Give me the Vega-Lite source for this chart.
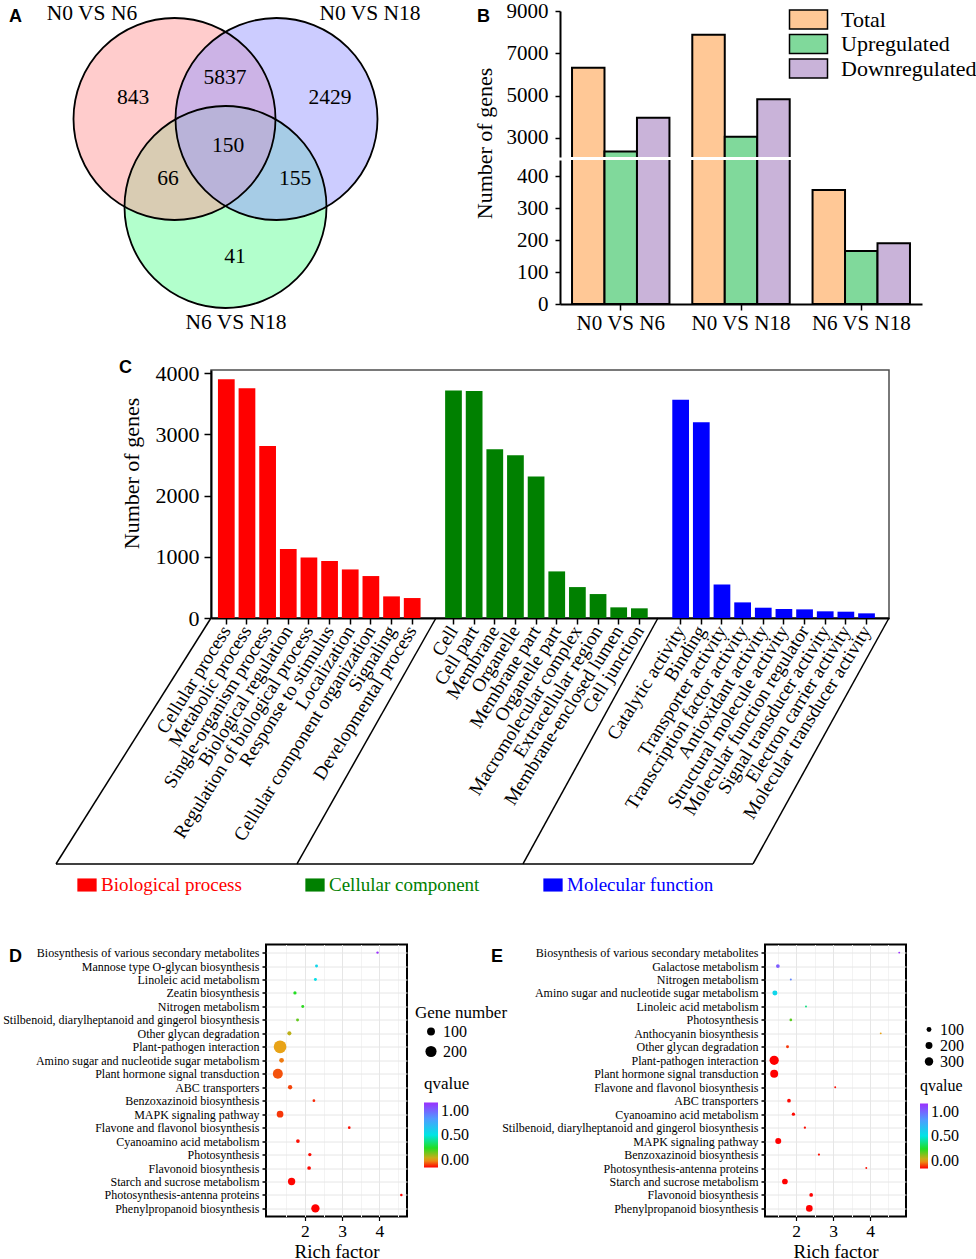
{
  "$schema": "https://vega.github.io/schema/vega-lite/v6.json",
  "background": "white",
  "padding": 0,
  "config": {
    "font": "Liberation Serif",
    "view": {"stroke": null},
    "axis": {"labelFont": "Liberation Serif", "titleFont": "Liberation Serif", "labelColor": "black", "titleColor": "black", "domainColor": "black", "tickColor": "black", "titleFontWeight": "normal"},
    "legend": {"labelFont": "Liberation Serif", "titleFont": "Liberation Serif", "labelColor": "black", "titleColor": "black", "titleFontWeight": "normal", "padding": 0},
    "title": {"font": "Liberation Sans", "fontWeight": "bold", "fontSize": 18, "color": "black", "anchor": "start", "frame": "group", "offset": 0, "baseline": "middle"}
  },
  "datasets": {
    "vennSets": [
      {"set": "N6 VS N18", "cx": 225.5, "cy": 206},
      {"set": "N0 VS N6", "cx": 174.5, "cy": 118},
      {"set": "N0 VS N18", "cx": 276.5, "cy": 118}
    ],
    "vennText": [
      {"text": "N0 VS N6", "x": 92, "y": 13},
      {"text": "N0 VS N18", "x": 370, "y": 13},
      {"text": "N6 VS N18", "x": 236, "y": 322},
      {"text": "843", "x": 133, "y": 97},
      {"text": "5837", "x": 225, "y": 77},
      {"text": "2429", "x": 330, "y": 97},
      {"text": "150", "x": 228, "y": 145},
      {"text": "66", "x": 168, "y": 178},
      {"text": "155", "x": 295, "y": 178},
      {"text": "41", "x": 235, "y": 256}
    ],
    "degs": [
      {"comparison": "N0 VS N6", "type": "Total", "genes": 6316},
      {"comparison": "N0 VS N6", "type": "Upregulated", "genes": 2357},
      {"comparison": "N0 VS N6", "type": "Downregulated", "genes": 3959},
      {"comparison": "N0 VS N18", "type": "Total", "genes": 7882},
      {"comparison": "N0 VS N18", "type": "Upregulated", "genes": 3057},
      {"comparison": "N0 VS N18", "type": "Downregulated", "genes": 4825},
      {"comparison": "N6 VS N18", "type": "Total", "genes": 356},
      {"comparison": "N6 VS N18", "type": "Upregulated", "genes": 166},
      {"comparison": "N6 VS N18", "type": "Downregulated", "genes": 190}
    ],
    "goTerms": [
      {"term": "Cellular process", "ontology": "Biological process", "genes": 3897},
      {"term": "Metabolic process", "ontology": "Biological process", "genes": 3750},
      {"term": "Single-organism process", "ontology": "Biological process", "genes": 2810},
      {"term": "Biological regulation", "ontology": "Biological process", "genes": 1125},
      {"term": "Regulation of biological process", "ontology": "Biological process", "genes": 989},
      {"term": "Response to stimulus", "ontology": "Biological process", "genes": 929},
      {"term": "Localization", "ontology": "Biological process", "genes": 793},
      {"term": "Cellular component organization", "ontology": "Biological process", "genes": 685},
      {"term": "Signaling", "ontology": "Biological process", "genes": 353},
      {"term": "Developmental process", "ontology": "Biological process", "genes": 326},
      {"term": "Cell", "ontology": "Cellular component", "genes": 3717},
      {"term": "Cell part", "ontology": "Cellular component", "genes": 3707},
      {"term": "Membrane", "ontology": "Cellular component", "genes": 2755},
      {"term": "Organelle", "ontology": "Cellular component", "genes": 2658},
      {"term": "Membrane part", "ontology": "Cellular component", "genes": 2310},
      {"term": "Organelle part", "ontology": "Cellular component", "genes": 761},
      {"term": "Macromolecular complex", "ontology": "Cellular component", "genes": 505},
      {"term": "Extracellular region", "ontology": "Cellular component", "genes": 391},
      {"term": "Membrane-enclosed lumen", "ontology": "Cellular component", "genes": 174},
      {"term": "Cell junction", "ontology": "Cellular component", "genes": 158},
      {"term": "Catalytic activity", "ontology": "Molecular function", "genes": 3565},
      {"term": "Binding", "ontology": "Molecular function", "genes": 3196},
      {"term": "Transporter activity", "ontology": "Molecular function", "genes": 549},
      {"term": "Transcription factor activity", "ontology": "Molecular function", "genes": 255},
      {"term": "Antioxidant activity", "ontology": "Molecular function", "genes": 168},
      {"term": "Structural molecule activity", "ontology": "Molecular function", "genes": 147},
      {"term": "Molecular function regulator", "ontology": "Molecular function", "genes": 141},
      {"term": "Signal transducer activity", "ontology": "Molecular function", "genes": 109},
      {"term": "Electron carrier activity", "ontology": "Molecular function", "genes": 103},
      {"term": "Molecular transducer activity", "ontology": "Molecular function", "genes": 76}
    ],
    "goFrame": [
      {"x": 0, "x2": -155, "y": 0, "y2": -4017},
      {"x": 225, "x2": 86, "y": 0, "y2": -4017},
      {"x": 447, "x2": 312, "y": 0, "y2": -4017},
      {"x": 678, "x2": 542, "y": 0, "y2": -4017},
      {"x": -155, "x2": 542, "y": -4017, "y2": -4017}
    ],
    "keggD": [
      {"pathway": "Biosynthesis of various secondary metabolites", "rich": 3.95, "genes": 9, "q": 1.0},
      {"pathway": "Mannose type O-glycan biosynthesis", "rich": 2.31, "genes": 14, "q": 0.55},
      {"pathway": "Linoleic acid metabolism", "rich": 2.28, "genes": 14, "q": 0.52},
      {"pathway": "Zeatin biosynthesis", "rich": 1.73, "genes": 17, "q": 0.3},
      {"pathway": "Nitrogen metabolism", "rich": 1.94, "genes": 14, "q": 0.29},
      {"pathway": "Stilbenoid, diarylheptanoid and gingerol biosynthesis", "rich": 1.8, "genes": 14, "q": 0.24},
      {"pathway": "Other glycan degradation", "rich": 1.58, "genes": 26, "q": 0.16},
      {"pathway": "Plant-pathogen interaction", "rich": 1.33, "genes": 260, "q": 0.12},
      {"pathway": "Amino sugar and nucleotide sugar metabolism", "rich": 1.37, "genes": 36, "q": 0.09},
      {"pathway": "Plant hormone signal transduction", "rich": 1.27, "genes": 160, "q": 0.06},
      {"pathway": "ABC transporters", "rich": 1.6, "genes": 30, "q": 0.05},
      {"pathway": "Benzoxazinoid biosynthesis", "rich": 2.24, "genes": 12, "q": 0.03},
      {"pathway": "MAPK signaling pathway", "rich": 1.33, "genes": 73, "q": 0.04},
      {"pathway": "Flavone and flavonol biosynthesis", "rich": 3.19, "genes": 11, "q": 0.01},
      {"pathway": "Cyanoamino acid metabolism", "rich": 1.81, "genes": 22, "q": 0.01},
      {"pathway": "Photosynthesis", "rich": 2.13, "genes": 18, "q": 0.008},
      {"pathway": "Flavonoid biosynthesis", "rich": 2.11, "genes": 22, "q": 0.005},
      {"pathway": "Starch and sucrose metabolism", "rich": 1.64, "genes": 86, "q": 0.003},
      {"pathway": "Photosynthesis-antenna proteins", "rich": 4.59, "genes": 10, "q": 0.002},
      {"pathway": "Phenylpropanoid biosynthesis", "rich": 2.28, "genes": 112, "q": 0.0}
    ],
    "keggE": [
      {"pathway": "Biosynthesis of various secondary metabolites", "rich": 4.79, "genes": 15, "q": 1.0},
      {"pathway": "Galactose metabolism", "rich": 1.51, "genes": 57, "q": 0.9},
      {"pathway": "Nitrogen metabolism", "rich": 1.86, "genes": 17, "q": 0.8},
      {"pathway": "Amino sugar and nucleotide sugar metabolism", "rich": 1.43, "genes": 104, "q": 0.55},
      {"pathway": "Linoleic acid metabolism", "rich": 2.27, "genes": 17, "q": 0.4},
      {"pathway": "Photosynthesis", "rich": 1.86, "genes": 30, "q": 0.25},
      {"pathway": "Anthocyanin biosynthesis", "rich": 4.29, "genes": 15, "q": 0.12},
      {"pathway": "Other glycan degradation", "rich": 1.77, "genes": 37, "q": 0.04},
      {"pathway": "Plant-pathogen interaction", "rich": 1.41, "genes": 360, "q": 0.0},
      {"pathway": "Plant hormone signal transduction", "rich": 1.41, "genes": 265, "q": 0.0},
      {"pathway": "Flavone and flavonol biosynthesis", "rich": 3.06, "genes": 15, "q": 0.01},
      {"pathway": "ABC transporters", "rich": 1.81, "genes": 57, "q": 0.005},
      {"pathway": "Cyanoamino acid metabolism", "rich": 1.93, "genes": 45, "q": 0.005},
      {"pathway": "Stilbenoid, diarylheptanoid and gingerol biosynthesis", "rich": 2.24, "genes": 22, "q": 0.01},
      {"pathway": "MAPK signaling pathway", "rich": 1.52, "genes": 150, "q": 0.0},
      {"pathway": "Benzoxazinoid biosynthesis", "rich": 2.62, "genes": 20, "q": 0.01},
      {"pathway": "Photosynthesis-antenna proteins", "rich": 3.9, "genes": 15, "q": 0.01},
      {"pathway": "Starch and sucrose metabolism", "rich": 1.7, "genes": 135, "q": 0.0},
      {"pathway": "Flavonoid biosynthesis", "rich": 2.41, "genes": 57, "q": 0.0},
      {"pathway": "Phenylpropanoid biosynthesis", "rich": 2.36, "genes": 186, "q": 0.0}
    ]
  },
  "resolve": {"scale": {"color": "independent", "size": "independent"}, "legend": {"color": "independent", "size": "independent"}},
  "spacing": 24,
  "vconcat": [
    {
      "bounds": "flush",
      "spacing": 100,
      "resolve": {"scale": {"color": "independent"}, "legend": {"color": "independent"}},
      "hconcat": [
        {
          "width": 460,
          "height": 320,
          "title": {"text": "A", "dx": 9, "dy": 27.25},
          "layer": [
            {
              "data": {"name": "vennSets"},
              "mark": {"type": "point", "shape": "circle", "filled": true, "size": 40804, "opacity": 0.5, "strokeWidth": 0},
              "encoding": {
                "x": {"field": "cx", "type": "quantitative", "scale": {"domain": [0, 460], "nice": false, "zero": false}, "axis": null},
                "y": {"field": "cy", "type": "quantitative", "scale": {"domain": [10, 330], "reverse": true, "nice": false, "zero": false}, "axis": null},
                "color": {"field": "set", "type": "nominal", "scale": {"domain": ["N0 VS N6", "N0 VS N18", "N6 VS N18"], "range": ["#FF9999", "#9999FF", "#66FF99"]}, "legend": null}
              }
            },
            {
              "data": {"name": "vennSets"},
              "mark": {"type": "point", "shape": "circle", "filled": false, "size": 40804, "color": "black", "strokeWidth": 1.8, "opacity": 1},
              "encoding": {
                "x": {"field": "cx", "type": "quantitative", "scale": {"domain": [0, 460], "nice": false, "zero": false}, "axis": null},
                "y": {"field": "cy", "type": "quantitative", "scale": {"domain": [10, 330], "reverse": true, "nice": false, "zero": false}, "axis": null}
              }
            },
            {
              "data": {"name": "vennText"},
              "mark": {"type": "text", "font": "Liberation Serif", "fontSize": 21.5, "color": "black"},
              "encoding": {
                "x": {"field": "x", "type": "quantitative", "scale": {"domain": [0, 460], "nice": false, "zero": false}, "axis": null},
                "y": {"field": "y", "type": "quantitative", "scale": {"domain": [10, 330], "reverse": true, "nice": false, "zero": false}, "axis": null},
                "text": {"field": "text"}
              }
            }
          ]
        },
        {
          "bounds": "flush",
          "spacing": 3,
          "resolve": {"scale": {"color": "independent"}, "legend": {"color": "independent"}},
          "vconcat": [
            {
              "width": 362,
              "height": 146,
              "title": {"text": "B", "dx": -83, "dy": 30},
              "data": {"name": "degs"},
              "mark": {"type": "bar", "clip": true, "stroke": "black", "strokeWidth": 2},
              "encoding": {
                "x": {"field": "comparison", "type": "nominal", "sort": ["N0 VS N6", "N0 VS N18", "N6 VS N18"], "scale": {"paddingInner": 0.19, "paddingOuter": 0.1}, "axis": null},
                "xOffset": {"field": "type", "type": "nominal", "sort": ["Total", "Upregulated", "Downregulated"], "scale": {"paddingInner": 0, "paddingOuter": 0}},
                "y": {"field": "genes", "type": "quantitative", "scale": {"domain": [2100, 9000], "nice": false, "zero": false},
                  "axis": {"values": [3000, 5000, 7000, 9000], "format": "d", "title": "Number of genes", "titleFontSize": 22, "titlePadding": 10, "titleY": 132, "labelFontSize": 21, "tickSize": 5, "tickWidth": 1.5, "domainWidth": 2, "labelPadding": 7, "grid": false}},
                "color": {"field": "type", "type": "nominal", "scale": {"domain": ["Total", "Upregulated", "Downregulated"], "range": ["#FFC896", "#80D99B", "#C9B3D9"]},
                  "legend": {"orient": "none", "legendX": 237.5, "legendY": -2.5, "title": null, "direction": "vertical", "symbolType": "M-2,-1H2V1H-2Z", "symbolSize": 361, "symbolStrokeColor": "black", "symbolStrokeWidth": 1.5, "symbolOpacity": 1, "labelFontSize": 22, "labelOffset": 21.5, "rowPadding": -1.5}}
              }
            },
            {
              "width": 362,
              "height": 144,
              "data": {"name": "degs"},
              "mark": {"type": "bar", "clip": true, "stroke": "black", "strokeWidth": 2},
              "encoding": {
                "x": {"field": "comparison", "type": "nominal", "sort": ["N0 VS N6", "N0 VS N18", "N6 VS N18"], "scale": {"paddingInner": 0.19, "paddingOuter": 0.1},
                  "axis": {"title": null, "labelAngle": 0, "labelFontSize": 21, "tickSize": 6, "tickWidth": 1.5, "domainWidth": 2, "labelPadding": 2}},
                "xOffset": {"field": "type", "type": "nominal", "sort": ["Total", "Upregulated", "Downregulated"], "scale": {"paddingInner": 0, "paddingOuter": 0}},
                "y": {"field": "genes", "type": "quantitative", "scale": {"domain": [0, 450], "nice": false},
                  "axis": {"values": [0, 100, 200, 300, 400], "format": "d", "title": null, "labelFontSize": 21, "tickSize": 5, "tickWidth": 1.5, "domainWidth": 2, "labelPadding": 7, "grid": false}},
                "color": {"field": "type", "type": "nominal", "scale": {"domain": ["Total", "Upregulated", "Downregulated"], "range": ["#FFC896", "#80D99B", "#C9B3D9"]}, "legend": null}
              }
            }
          ]
        }
      ]
    },
    {
      "spacing": 47.5,
      "resolve": {"scale": {"color": "independent", "size": "independent"}, "legend": {"color": "independent", "size": "independent"}},
      "vconcat": [
        {
          "bounds": "flush",
          "spacing": 210,
          "resolve": {"scale": {"color": "independent"}, "legend": {"color": "independent"}},
          "hconcat": [
            {"width": 1, "height": 1, "data": {"values": []}, "mark": "point"},
            {
              "width": 678,
              "height": 248,
              "title": {"text": "C", "dx": -92, "dy": 19},
              "view": {"stroke": "#4d4d4d", "strokeWidth": 1.5},
              "resolve": {"scale": {"x": "independent", "y": "independent"}, "axis": {"x": "independent", "y": "independent"}},
              "layer": [
                {
                  "data": {"name": "goTerms"},
                  "mark": {"type": "bar"},
                  "encoding": {
                    "x": {"field": "term", "type": "nominal",
                      "scale": {"domain": ["Cellular process", "Metabolic process", "Single-organism process", "Biological regulation", "Regulation of biological process", "Response to stimulus", "Localization", "Cellular component organization", "Signaling", "Developmental process", " ", "Cell", "Cell part", "Membrane", "Organelle", "Membrane part", "Organelle part", "Macromolecular complex", "Extracellular region", "Membrane-enclosed lumen", "Cell junction", "  ", "Catalytic activity", "Binding", "Transporter activity", "Transcription factor activity", "Antioxidant activity", "Structural molecule activity", "Molecular function regulator", "Signal transducer activity", "Electron carrier activity", "Molecular transducer activity"], "paddingInner": 0.19, "paddingOuter": 0.51, "align": 0.33},
                      "axis": {"values": ["Cellular process", "Metabolic process", "Single-organism process", "Biological regulation", "Regulation of biological process", "Response to stimulus", "Localization", "Cellular component organization", "Signaling", "Developmental process", "Cell", "Cell part", "Membrane", "Organelle", "Membrane part", "Organelle part", "Macromolecular complex", "Extracellular region", "Membrane-enclosed lumen", "Cell junction", "Catalytic activity", "Binding", "Transporter activity", "Transcription factor activity", "Antioxidant activity", "Structural molecule activity", "Molecular function regulator", "Signal transducer activity", "Electron carrier activity", "Molecular transducer activity"],
                        "title": null, "labelAngle": -58, "labelAlign": "right", "labelBaseline": "middle", "labelFontSize": 19, "labelPadding": 3, "tickSize": 6, "tickWidth": 1.5, "domainWidth": 2, "labelLimit": 400, "labelOverlap": false}},
                    "y": {"field": "genes", "type": "quantitative", "scale": {"domain": [0, 4050], "nice": false},
                      "axis": {"values": [0, 1000, 2000, 3000, 4000], "format": "d", "title": "Number of genes", "titleFontSize": 22, "titlePadding": 12, "titleY": 103, "labelFontSize": 22, "labelPadding": 5, "tickSize": 7, "tickWidth": 1.5, "domainWidth": 2, "grid": false}},
                    "color": {"field": "ontology", "type": "nominal", "scale": {"domain": ["Biological process", "Cellular component", "Molecular function"], "range": ["#FF0000", "#008000", "#0000FF"]},
                      "legend": {"orient": "none", "legendX": -134, "legendY": 505, "direction": "horizontal", "title": null, "symbolType": "M-1,-0.68H1V0.68H-1Z", "symbolSize": 372, "symbolStrokeWidth": 0, "symbolOpacity": 1, "labelFontSize": 19, "labelOffset": 4, "columnPadding": 63,
                        "labelColor": {"expr": "datum.label == 'Biological process' ? '#FF0000' : datum.label == 'Cellular component' ? '#008000' : '#0000FF'"}}}
                  }
                },
                {
                  "data": {"name": "goFrame"},
                  "mark": {"type": "rule", "color": "black", "strokeWidth": 1.5},
                  "encoding": {
                    "x": {"field": "x", "type": "quantitative", "scale": {"domain": [0, 678], "nice": false, "zero": false}, "axis": null},
                    "x2": {"field": "x2"},
                    "y": {"field": "y", "type": "quantitative", "scale": {"domain": [0, 4050], "nice": false, "zero": false}, "axis": null},
                    "y2": {"field": "y2"}
                  }
                }
              ]
            }
          ]
        },
        {
          "bounds": "flush",
          "spacing": 265,
          "resolve": {"scale": {"color": "independent", "size": "independent"}, "legend": {"color": "independent", "size": "independent"}},
          "hconcat": [
            {"width": 1, "height": 1, "data": {"values": []}, "mark": "point"},
            {
              "bounds": "flush",
              "spacing": 358,
              "resolve": {"scale": {"color": "independent", "size": "independent"}, "legend": {"color": "independent", "size": "independent"}},
              "hconcat": [
                {
                  "width": 141,
                  "height": 272,
                  "title": {"text": "D", "dx": -257, "dy": 25},
                  "view": {"stroke": "black", "strokeWidth": 2},
                  "data": {"name": "keggD"},
                  "mark": {"type": "circle", "opacity": 1},
                  "encoding": {
                    "x": {"field": "rich", "type": "quantitative", "scale": {"domain": [0.952, 4.742], "nice": false, "zero": false},
                      "axis": {"values": [1.5, 2, 2.5, 3, 3.5, 4, 4.5], "labelExpr": "datum.value % 1 == 0 ? format(datum.value, 'd') : ''", "tickOpacity": {"condition": {"test": "datum.value % 1 == 0", "value": 1}, "value": 0}, "gridColor": {"condition": {"test": "datum.value % 1 == 0", "value": "#E6E6E6"}, "value": "#F3F3F3"}, "grid": true, "title": "Rich factor", "titleFontSize": 19, "titlePadding": 2, "labelFontSize": 17.5, "tickSize": 4, "tickWidth": 1.2, "labelPadding": 2, "domain": false, "labelFlush": false, "labelOverlap": false}},
                    "y": {"field": "pathway", "type": "nominal", "sort": null, "scale": {"padding": 0.6},
                      "axis": {"title": null, "labelFontSize": 12, "labelLimit": 400, "grid": true, "gridColor": "#E6E6E6", "tickSize": 4, "tickWidth": 1.5, "labelPadding": 3, "domain": false}},
                    "size": {"field": "genes", "type": "quantitative", "scale": {"domain": [0, 260], "range": [0, 161]},
                      "legend": {"orient": "none", "legendX": 149, "legendY": 60, "direction": "vertical", "title": "Gene number", "titleFontSize": 17, "titlePadding": 2, "labelFontSize": 16, "values": [100, 200], "symbolFillColor": "black", "symbolStrokeWidth": 0, "symbolOpacity": 1, "symbolType": "circle", "symbolOffset": 8, "labelOffset": 4, "rowPadding": 4}},
                    "color": {"field": "q", "type": "quantitative", "scale": {"domain": [0, 0.12, 0.3, 0.5, 0.75, 1], "range": ["#FF0000", "#E8A317", "#22DD22", "#00E5E5", "#4F9BFF", "#9B30FF"], "interpolate": "rgb"},
                      "legend": {"orient": "none", "legendX": 158, "legendY": 131, "direction": "vertical", "title": "qvalue", "titleFontSize": 17, "titlePadding": 10, "labelFontSize": 16, "gradientLength": 65, "gradientThickness": 14, "values": [0, 0.25, 0.5, 0.75, 1], "format": ".2f", "gradientStrokeWidth": 0, "labelOffset": 3}}
                  }
                },
                {
                  "width": 141,
                  "height": 272,
                  "title": {"text": "E", "dx": -274, "dy": 25},
                  "view": {"stroke": "black", "strokeWidth": 2},
                  "data": {"name": "keggE"},
                  "mark": {"type": "circle", "opacity": 1},
                  "encoding": {
                    "x": {"field": "rich", "type": "quantitative", "scale": {"domain": [1.162, 4.973], "nice": false, "zero": false},
                      "axis": {"values": [1.5, 2, 2.5, 3, 3.5, 4, 4.5], "labelExpr": "datum.value % 1 == 0 ? format(datum.value, 'd') : ''", "tickOpacity": {"condition": {"test": "datum.value % 1 == 0", "value": 1}, "value": 0}, "gridColor": {"condition": {"test": "datum.value % 1 == 0", "value": "#E6E6E6"}, "value": "#F3F3F3"}, "grid": true, "title": "Rich factor", "titleFontSize": 19, "titlePadding": 2, "labelFontSize": 17.5, "tickSize": 4, "tickWidth": 1.2, "labelPadding": 2, "domain": false, "labelFlush": false, "labelOverlap": false}},
                    "y": {"field": "pathway", "type": "nominal", "sort": null, "scale": {"padding": 0.6},
                      "axis": {"title": null, "labelFontSize": 12, "labelLimit": 400, "grid": true, "gridColor": "#E6E6E6", "tickSize": 4, "tickWidth": 1.5, "labelPadding": 3, "domain": false}},
                    "size": {"field": "genes", "type": "quantitative", "scale": {"domain": [0, 360], "range": [0, 86]},
                      "legend": {"orient": "none", "legendX": 156, "legendY": 77, "direction": "vertical", "title": null, "labelFontSize": 16, "values": [100, 200, 300], "symbolFillColor": "black", "symbolStrokeWidth": 0, "symbolOpacity": 1, "symbolType": "circle", "labelOffset": 3, "rowPadding": 0}},
                    "color": {"field": "q", "type": "quantitative", "scale": {"domain": [0, 0.12, 0.3, 0.5, 0.75, 1], "range": ["#FF0000", "#E8A317", "#22DD22", "#00E5E5", "#4F9BFF", "#9B30FF"], "interpolate": "rgb"},
                      "legend": {"orient": "none", "legendX": 155, "legendY": 133, "direction": "vertical", "title": "qvalue", "titleFontSize": 16, "titlePadding": 10, "labelFontSize": 16, "gradientLength": 65, "gradientThickness": 8, "values": [0, 0.25, 0.5, 0.75, 1], "format": ".2f", "gradientStrokeWidth": 0, "labelOffset": 3}}
                  }
                }
              ]
            }
          ]
        }
      ]
    }
  ]
}
